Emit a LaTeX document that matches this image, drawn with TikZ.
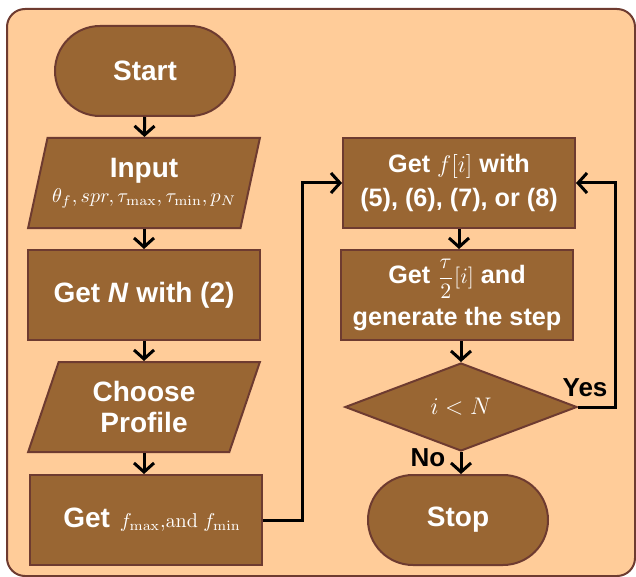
\documentclass[tikz,border=0pt]{standalone}
\usepackage[no-math]{fontspec}
\setmainfont{Liberation Sans}
\usetikzlibrary{arrows.meta, shapes.geometric, shapes.misc}
\definecolor{boxbrown}{HTML}{996633}
\definecolor{edgebrown}{HTML}{6E3B30}
\definecolor{peach}{HTML}{FFCC99}

\begin{document}
\begin{tikzpicture}[x=0.5pt, y=-0.5pt,
  block/.style={draw=edgebrown, line width=1pt, fill=boxbrown, text=white,
    font=\bfseries\fontsize{14}{15.5}\selectfont, align=center,
    minimum width=116pt, minimum height=45pt, inner sep=2pt},
  smallblock/.style={block, font=\bfseries\fontsize{12.6}{17}\selectfont},
  terminal/.style={block, rounded rectangle, minimum width=94pt},
  io/.style={block, trapezium, trapezium left angle=71.6,
    trapezium right angle=108.4, trapezium stretches=true},
  decision/.style={block, diamond, aspect=2.6, minimum width=116pt,
    minimum height=44pt, font=\fontsize{12}{14}\selectfont},
  flow/.style={line width=1.5pt, -{Straight Barb[length=4.5pt,width=10pt]}},
  tag/.style={font=\bfseries\fontsize{13}{15}\selectfont}]
\useasboundingbox (0,0) rectangle (636,577);
% Draw background panel
\draw[draw=edgebrown, fill=peach, line width=1pt, rounded corners=9pt]
  (7,9) rectangle (635,576);
% Left column
\node[terminal] (start) at (145,71) {Start};
\node[io] (input) at (144,183)
  {Input\\[-3pt]{\mdseries\fontsize{10}{12}\selectfont$\theta_f, spr, \tau_{\max}, \tau_{\min}, p_N$}};
\node[block] (getn) at (144,295) {Get \textit{N} with (2)};
\node[io] (profile) at (144,407) {Choose\\Profile};
\node[block] (limits) at (146,520)
  {\hspace{6pt}Get\hspace{0.35em}{\fontsize{9.8}{13}\selectfont$f_{\max}{,}\mathrm{and}\ f_{\min}$}};
% Right column
\node[smallblock] (freq) at (459,183) {Get $f[i]$ with\\(5), (6), (7), or (8)};
\node[smallblock] (half) at (457,295)
  {Get {\fontsize{11}{13}\selectfont$\displaystyle\frac{\tau}{2}[i]$} and\\[4pt]generate the step};
\node[decision] (test) at (461,407) {$i<N$};
\node[terminal] (stop) at (458,520) {Stop};
% Draw connectors
\draw[flow] (start) -- (input);
\draw[flow] (input) -- (getn);
\draw[flow] (getn) -- (profile);
\draw[flow] (profile.south) -- (profile.south |- limits.north);
\coordinate (bend) at (302,520);
\draw[flow] (limits.east) -- (bend) |- (freq.west);
\draw[flow] (freq.south) -- (freq.south |- half.north);
\draw[flow] (test.north |- half.south) -- (test.north);
\draw[flow] (test.south) -- (stop.north -| test.south);
\coordinate (loop) at (615,407);
\draw[flow] (test.east) -- (loop) |- (freq.east);
% Branch labels
\node[tag] (yes) at (585,388) {Yes};
\node[tag] (no) at (428,458) {No};
\end{tikzpicture}
\end{document}
